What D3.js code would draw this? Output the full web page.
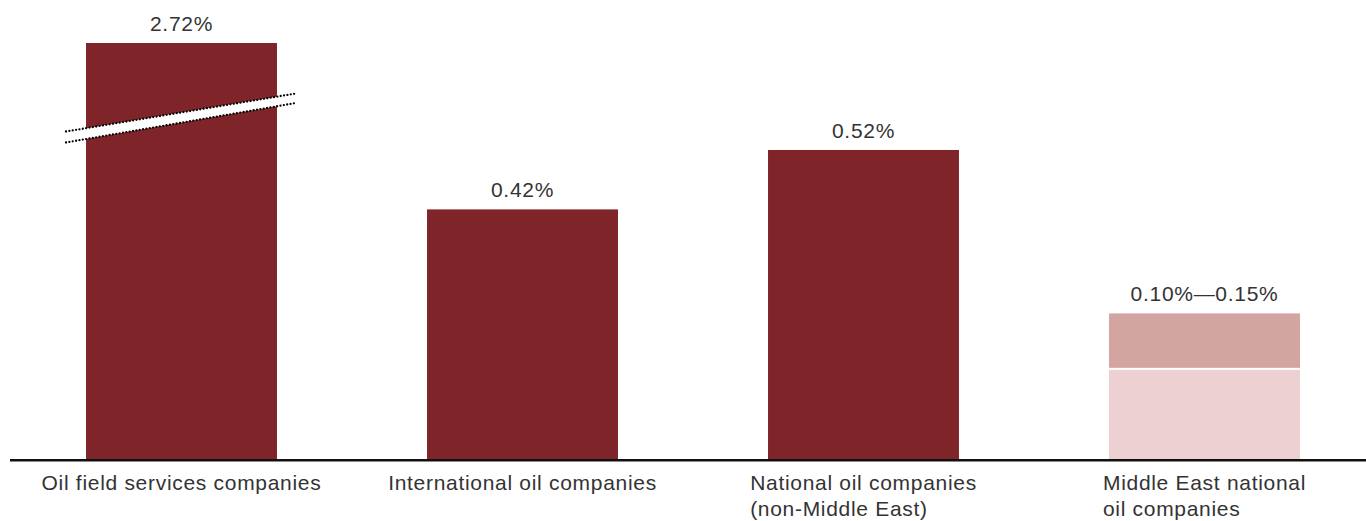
<!DOCTYPE html>
<html lang="en">
  <head>
    <meta charset="utf-8"/>
    <script src="https://d3js.org/d3.v7.min.js"></script>
    <style>
      body { margin: 0; background: #fff; }
      .chart text {
        font: 21px "Liberation Sans", Arial, sans-serif;
        letter-spacing: 0.7px;
        fill: #333;
      }
    </style>
  </head>
  <body>
    <svg class="chart"></svg>
  </body>
  <script>
    // data
    const categories = [
      ["Oil field services companies"],
      ["International oil companies"],
      ["National oil companies", "(non-Middle East)"],
      ["Middle East national", "oil companies"]
    ];
    const values = [2.72, 0.42, 0.52, null];
    const valueLabels = ["2.72%", "0.42%", "0.52%", "0.10%\u20140.15%"];
    const rangeLow = 0.15;
    const rangeHigh = 0.245;
    const axisCap = 0.70; // first bar is broken at this height

    const width = 1366, height = 521;
    const baseline = 459;

    const svg = d3.select(".chart")
      .attr("width", width)
      .attr("height", height);

    const x = d3.scaleBand()
      .domain(d3.range(categories.length))
      .range([11, 1375])
      .paddingInner(0.44)
      .paddingOuter(0.22);

    const y = d3.scaleLinear()
      .domain([0, axisCap])
      .range([baseline, 43]);

    const bw = x.bandwidth();

    // solid bars
    const solid = values.map((v, i) => ({v, i})).filter(d => d.v !== null);
    svg.selectAll("rect.bar")
      .data(solid)
      .enter().append("rect")
        .attr("class", "bar")
        .attr("x", d => x(d.i))
        .attr("y", d => y(Math.min(d.v, axisCap)))
        .attr("width", bw)
        .attr("height", d => y(0) - y(Math.min(d.v, axisCap)))
        .attr("fill", "#7f252a");

    // range bar
    const ri = 3;
    svg.append("rect")
      .attr("x", x(ri))
      .attr("y", y(rangeLow))
      .attr("width", bw)
      .attr("height", y(0) - y(rangeLow))
      .attr("fill", "#edd0d1");
    svg.append("rect")
      .attr("x", x(ri))
      .attr("y", y(rangeHigh))
      .attr("width", bw)
      .attr("height", y(rangeLow) - y(rangeHigh) - 2)
      .attr("fill", "#d3a5a1");

    // axis break on first bar
    const bx0 = x(0) - 20, bx1 = x(0) + bw + 19;
    const upper = [[bx0, 131.5], [bx1, 93.5]];
    const lower = [[bx0, 142.5], [bx1, 103]];
    svg.append("polygon")
      .attr("points", [upper[0], upper[1], lower[1], lower[0]].map(p => p.join(",")).join(" "))
      .attr("fill", "#fff");
    [upper, lower].forEach(function(l) {
      svg.append("line")
        .attr("x1", l[0][0]).attr("y1", l[0][1])
        .attr("x2", l[1][0]).attr("y2", l[1][1])
        .attr("stroke", "#000")
        .attr("stroke-width", 2.3)
        .attr("stroke-linecap", "round")
        .attr("stroke-dasharray", "0,3.4");
    });

    // value labels
    const tops = [axisCap, values[1], values[2], rangeHigh];
    svg.selectAll("text.val")
      .data(valueLabels)
      .enter().append("text")
        .attr("class", "val")
        .attr("x", (d, i) => x(i) + bw / 2)
        .attr("y", (d, i) => y(tops[i]) - 12)
        .attr("text-anchor", "middle")
        .text(d => d);

    // baseline
    svg.append("line")
      .attr("x1", 10).attr("x2", width)
      .attr("y1", baseline + 1.2).attr("y2", baseline + 1.2)
      .attr("stroke", "#111")
      .attr("stroke-width", 2.4);

    // category labels: left-aligned block, centred under bar
    categories.forEach(function(lines, i) {
      const t = svg.append("text")
        .attr("y", 490);
      lines.forEach(function(s, k) {
        t.append("tspan")
          .attr("dy", k === 0 ? 0 : 26)
          .text(s);
      });
      const spans = t.selectAll("tspan").nodes();
      const maxW = d3.max(spans, n => n.getComputedTextLength());
      const left = x(i) + bw / 2 - maxW / 2;
      t.selectAll("tspan").attr("x", left);
    });
  </script>
</html>
